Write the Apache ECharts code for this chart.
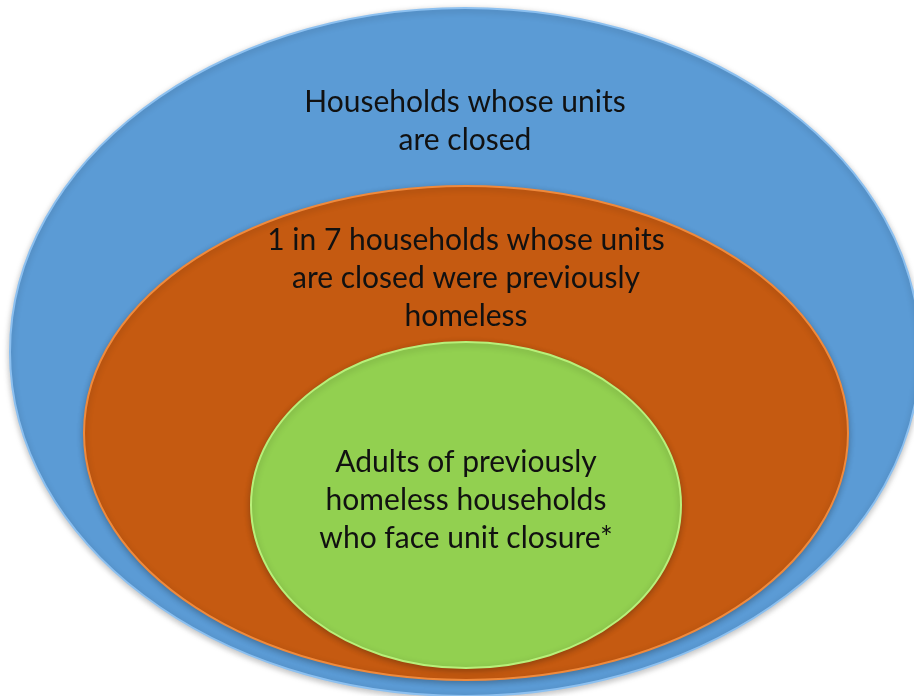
<!DOCTYPE html>
<html>
<head>
<meta charset="utf-8">
<script src="https://cdn.jsdelivr.net/npm/echarts@6/dist/echarts.min.js"></script>
<style>
  html, body { margin: 0; padding: 0; background: #ffffff; }
  #main { width: 914px; height: 696px; }
</style>
</head>
<body>
<div id="main"></div>
<script>
// nested sets, outermost first (values in the chart's own x/y units)
var setNames = [
  'Households whose units\nare closed',
  '1 in 7 households whose units\nare closed were previously\nhomeless',
  'Adults of previously\nhomeless households\nwho face unit closure*'
]
var centerX = [465, 466, 466]
var centerY = [352, 433, 505]
var radiusX = [455, 382, 215]
var radiusY = [344, 247, 163]
var labelY = [121, 278, 500]

var fills = ['#5b9bd5', '#c55a11', '#92d050']
var edges = ['#8cc0f0', '#f08a3c', '#b8f07a']

var data = setNames.map(function (name, i) {
  return [centerX[i], centerY[i], radiusX[i], radiusY[i], labelY[i]]
})

var chart = echarts.init(document.getElementById('main'))
chart.setOption({
  animation: false,
  grid: { left: 0, right: 0, top: 0, bottom: 0 },
  xAxis: { type: 'value', min: 0, max: 914, show: false },
  yAxis: { type: 'value', min: 0, max: 696, inverse: true, show: false },
  series: [{
    type: 'custom',
    data: data,
    renderItem: function (params, api) {
      var i = params.dataIndex
      var c = api.coord([api.value(0), api.value(1)])
      var size = api.size([api.value(2), api.value(3)])
      var lp = api.coord([api.value(0), api.value(4)])
      return {
        type: 'group',
        children: [{
          type: 'ellipse',
          shape: { cx: c[0], cy: c[1], rx: size[0], ry: size[1] },
          style: {
            fill: fills[i],
            stroke: edges[i],
            lineWidth: 2,
            shadowBlur: 6,
            shadowColor: 'rgba(0,0,0,0.25)',
            shadowOffsetY: 2
          }
        }, {
          type: 'text',
          x: lp[0],
          y: lp[1],
          style: {
            text: setNames[i],
            fill: '#111111',
            font: '30px Lato',
            lineHeight: 38,
            align: 'center',
            verticalAlign: 'middle'
          }
        }]
      }
    }
  }]
})
</script>
</body>
</html>
